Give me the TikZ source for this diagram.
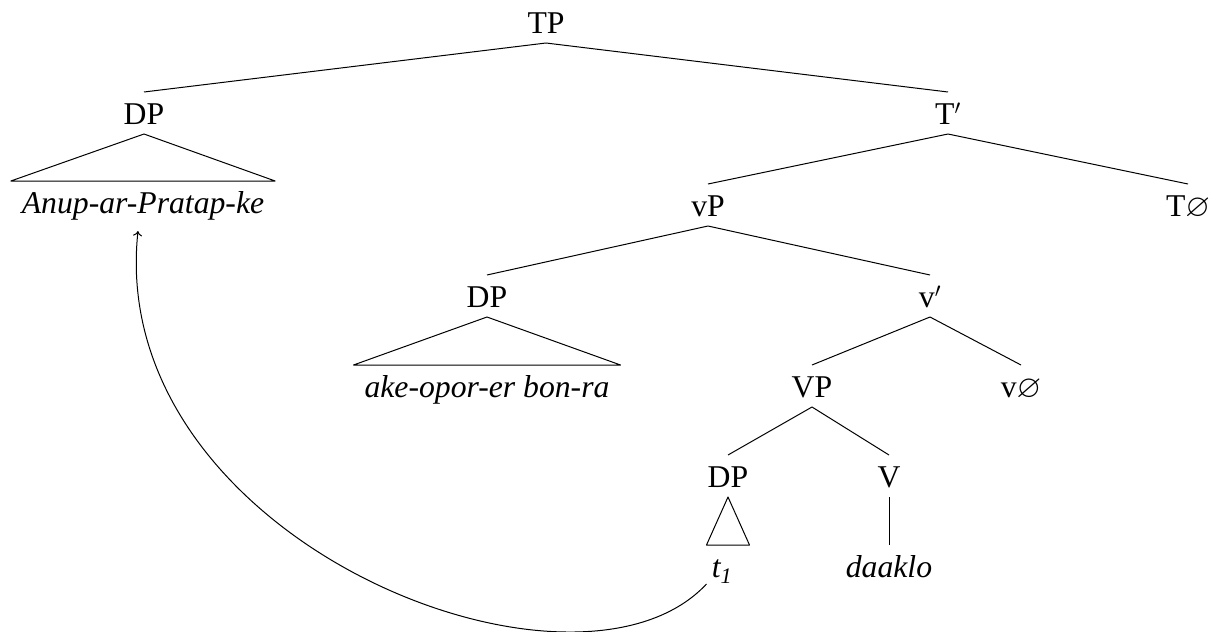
\documentclass[tikz,border=0pt]{standalone}
\usepackage{amssymb}
\usepackage{fontspec}
\setmainfont{Liberation Serif}
\usetikzlibrary{arrows.meta}
\tikzset{
  lab/.style={font=\fontsize{31.7}{38}\selectfont, anchor=base, text height=22pt, text depth=0pt,
    inner xsep=0pt, inner ysep=10pt, outer sep=0pt},
  rooflab/.style={lab, font=\fontsize{31.7}{38}\selectfont\itshape, inner xsep=11pt, text depth=8pt},
  edge/.style={line width=1pt, line join=round},
  movearrow/.style={line width=1pt, -{To[length=5pt,width=9pt]}}
}
\begin{document}
\begin{tikzpicture}[x=1pt,y=-1pt]
\useasboundingbox (0,0) rectangle (1216,632);
% nodes
\node[lab] (TP) at (546,33) {TP};
\node[lab] (DPa) at (144,124) {DP};
\node[lab] (Tbar) at (948,124) {T$'$};
\node[rooflab] (Anup) at (143,213) {Anup-ar-Pratap-ke};
\node[lab] (vP) at (708,216) {vP};
\node[lab] (Tnull) at (1188,216) {T$\varnothing$};
\node[lab] (DPb) at (487,307) {DP};
\node[lab] (vbar) at (930,307) {v$'$};
\node[rooflab] (ake) at (487,397) {ake-opor-er bon-ra};
\node[lab] (VP) at (812,397) {VP};
\node[lab] (vnull) at (1021,397) {v$\varnothing$};
\node[lab] (DPc) at (728,487) {DP};
\node[lab] (V) at (889,487) {V};
\node[lab, minimum width=43pt] (t1) at (728,577) {\itshape\hspace*{-12pt}t\textsubscript{1}};
\node[lab, font=\fontsize{31.7}{38}\selectfont\itshape] (daaklo) at (889,577) {daaklo};
% edges
\draw[edge] (TP.south) -- (DPa.north);
\draw[edge] (TP.south) -- (Tbar.north);
\draw[edge] (Tbar.south) -- (vP.north);
\draw[edge] (Tbar.south) -- (Tnull.north);
\draw[edge] (vP.south) -- (DPb.north);
\draw[edge] (vP.south) -- (vbar.north);
\draw[edge] (vbar.south) -- (VP.north);
\draw[edge] (vbar.south) -- (vnull.north);
\draw[edge] (VP.south) -- (DPc.north);
\draw[edge] (VP.south) -- (V.north);
\draw[edge] (V.south) -- (daaklo.north);
% roofs
\draw[edge] (DPa.south) -- (Anup.north west) -- (Anup.north east) -- cycle;
\draw[edge] (DPb.south) -- (ake.north west) -- (ake.north east) -- cycle;
\draw[edge] (DPc.south) -- (t1.north west) -- (t1.north east) -- cycle;
% movement
\draw[movearrow] ([yshift=3pt]t1.south west) .. controls (575,725) and (105,540) .. ([xshift=-5pt]Anup.south);
\end{tikzpicture}
\end{document}
